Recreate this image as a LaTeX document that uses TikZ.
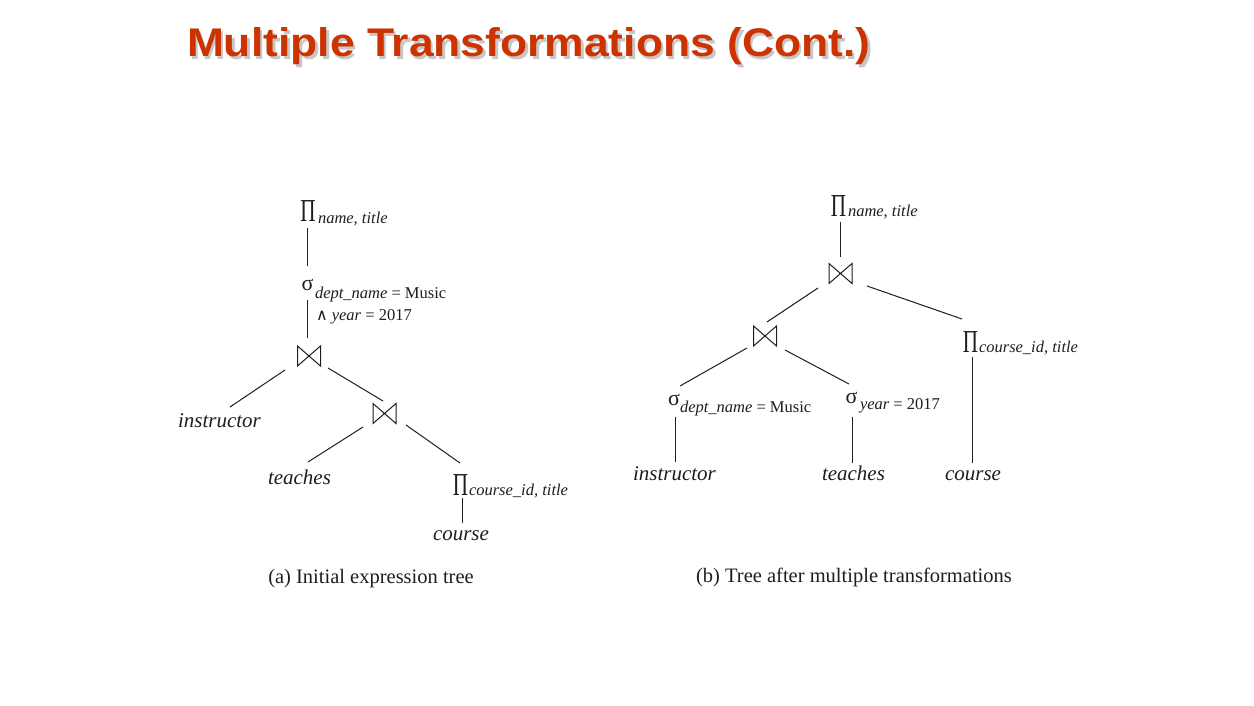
\documentclass[tikz,border=0pt]{standalone}
\usepackage{fontspec}
\usepackage{graphicx}
\setmainfont{Liberation Serif}
\newfontfamily\headfont{Liberation Sans}
\newfontfamily\symfont{DejaVu Sans}
\definecolor{headred}{RGB}{204,51,0}
\definecolor{ink}{RGB}{30,30,30}
\newcommand{\bigpi}{\scalebox{0.66}[1]{\fontsize{32}{32}\selectfont Π}}
\newcommand{\andsym}{{\symfont\fontsize{16}{16}\selectfont ∧}}
% heading text with a soft grey drop shadow set behind it
\newcommand{\shadowed}[1]{%
  \rlap{\hspace{2.5pt}\raisebox{-2.5pt}{\textcolor{black!22}{#1}}}\textcolor{headred}{#1}}
\tikzset{
  txt/.style={inner sep=0pt, outer sep=0pt, anchor=base west, text=ink},
  leaf/.style={txt, font=\fontsize{21}{21}\selectfont\itshape},
  subtxt/.style={txt, font=\fontsize{16.5}{16.5}\selectfont},
  proj/.style={inner sep=0pt, outer sep=0pt, anchor=base, text=ink},
  sel/.style={inner sep=0pt, outer sep=0pt, anchor=base, text=ink, font=\fontsize{22}{22}\selectfont},
  joinbox/.style={inner sep=0pt, outer sep=0pt, minimum width=23pt, minimum height=20pt},
  joinsym/.style={line width=1pt, draw=ink, line join=miter},
  edge/.style={line width=1pt, draw=ink},
  caption/.style={inner sep=0pt, anchor=base, text=ink, font=\fontsize{20.5}{20.5}\selectfont},
}
\begin{document}
\begin{tikzpicture}[x=1pt, y=-1pt]
  \path[fill=white] (0,0) rectangle (1254,706);

  % heading
  \node[txt, font=\headfont\bfseries\fontsize{40}{40}\selectfont]
    (head) at (187,57) {\scalebox{1.11}[1]{\shadowed{Multiple Transformations (Cont.)}}};

  % ---------- (a) initial expression tree ----------
  \node[proj] (P1) at (308,222) {\bigpi};
  \node[subtxt] (P1s) at (318,223) {\textit{name, title}};
  \node[sel] (S1) at (307.5,290) {σ};
  \node[subtxt] (S1s) at (315,298) {\textit{dept\_name} = Music};
  \node[subtxt] (S1t) at (316,320) {\andsym\ \textit{year} = 2017};
  \node[joinbox] (J1) at (309,356) {};
  \node[leaf] (instrA) at (178,427) {instructor};
  \node[joinbox] (J2) at (384.5,413.5) {};
  \node[leaf] (teachA) at (268,484) {teaches};
  \node[proj] (P2) at (460.5,495) {\bigpi};
  \node[subtxt] (P2s) at (469,495) {\textit{course\_id, title}};
  \node[leaf] (courseA) at (433,540) {course};
  \node[caption] (capA) at (371,583) {(a) Initial expression tree};

  \draw[edge] ([shift={(-1,6)}]P1.base) -- ([shift={(-0.5,-24)}]S1.base);
  \draw[edge] ([shift={(-0.5,10)}]S1.base) -- ([shift={(-2,-18)}]J1.center);
  \draw[edge] ([shift={(-24,14)}]J1.center) -- ([shift={(52,-20)}]instrA.base west);
  \draw[edge] ([shift={(19,12)}]J1.center) -- ([shift={(-1.5,-12.5)}]J2.center);
  \draw[edge] ([shift={(-21.5,13.5)}]J2.center) -- ([shift={(40,-22)}]teachA.base west);
  \draw[edge] ([shift={(21.5,11.5)}]J2.center) -- ([shift={(-0.5,-32)}]P2.base);
  \draw[edge] ([shift={(1.5,3)}]P2.base) -- ([shift={(29,-17)}]courseA.base west);

  % ---------- (b) tree after multiple transformations ----------
  \node[proj] (P3) at (838.5,216) {\bigpi};
  \node[subtxt] (P3s) at (848,216) {\textit{name, title}};
  \node[joinbox] (J3) at (840.5,273.5) {};
  \node[joinbox] (J4) at (765,336) {};
  \node[proj] (P4) at (970.5,352) {\bigpi};
  \node[subtxt] (P4s) at (979,352) {\textit{course\_id, title}};
  \node[sel] (S2) at (674,405) {σ};
  \node[subtxt] (S2s) at (680,412) {\textit{dept\_name} = Music};
  \node[sel] (S3) at (851.5,403) {σ};
  \node[subtxt] (S3s) at (860,409) {\textit{year} = 2017};
  \node[leaf] (instrB) at (633,480) {instructor};
  \node[leaf] (teachB) at (822,480) {teaches};
  \node[leaf] (courseB) at (945,480) {course};
  \node[caption] (capB) at (854,582) {(b) Tree after multiple transformations};

  \draw[edge] ([shift={(1.5,6)}]P3.base) -- ([shift={(-0.5,-16.5)}]J3.center);
  \draw[edge] ([shift={(-22.5,14.5)}]J3.center) -- ([shift={(2,-14)}]J4.center);
  \draw[edge] ([shift={(26.5,12.5)}]J3.center) -- ([shift={(-8.5,-33)}]P4.base);
  \draw[edge] ([shift={(-18,12)}]J4.center) -- ([shift={(6,-19)}]S2.base);
  \draw[edge] ([shift={(20,14)}]J4.center) -- ([shift={(-2.5,-19)}]S3.base);
  \draw[edge] ([shift={(1,12)}]S2.base) -- ([shift={(42,-18)}]instrB.base west);
  \draw[edge] ([shift={(0.5,14)}]S3.base) -- ([shift={(30,-17)}]teachB.base west);
  \draw[edge] ([shift={(1.5,5)}]P4.base) -- ([shift={(27,-17)}]courseB.base west);

  % bow-tie join symbols
  \foreach \j in {J1,J2,J3,J4}
    \draw[joinsym] (\j.north west) -- (\j.south east) -- (\j.north east) -- (\j.south west) -- cycle;
\end{tikzpicture}
\end{document}
